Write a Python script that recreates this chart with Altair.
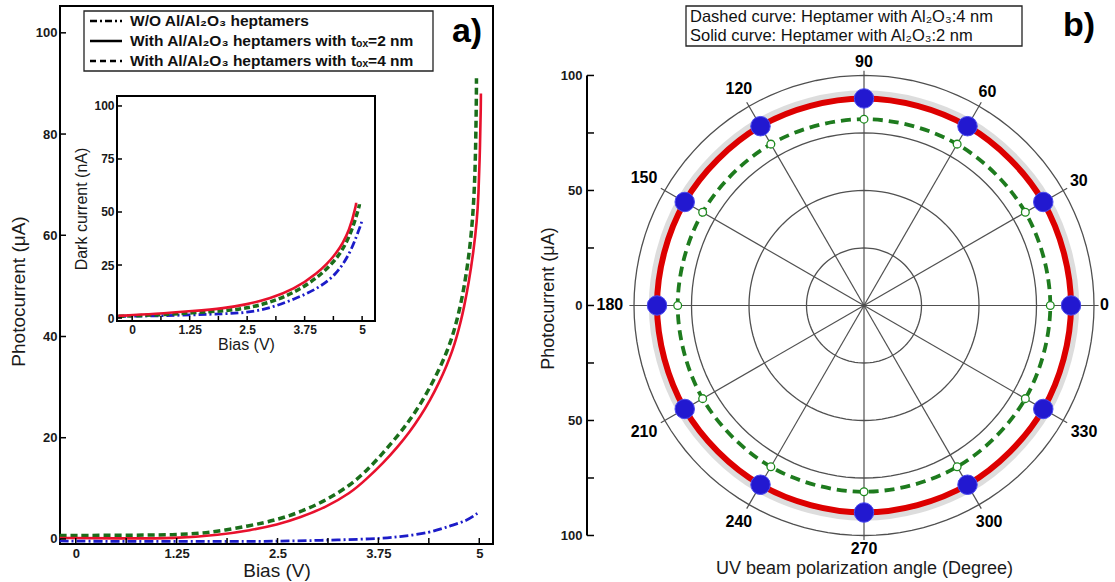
import altair as alt
import pandas as pd
import numpy as np

FONT = "Liberation Sans"
BLUE = "#1c1cc8"
RED = "#e8112d"
GREEN = "#1a6e1a"
INTERP = "basis"

# ---------------- panel a: photocurrent (uA) vs bias (V) ----------------
wo_bias = [-0.2, 0.5, 1.25, 2.0, 2.5, 3.0, 3.71, 4.0, 4.39, 4.64, 4.85, 4.99]
wo_uA = [-0.4, -0.5, -0.5, -0.5, -0.45, -0.3, 0.0, 0.4, 1.2, 2.6, 3.6, 5.2]
t2_bias = [-0.2, 0.5, 1.25, 1.78, 2.16, 2.5, 2.78, 3.1, 3.40, 3.60, 3.81, 4.00, 4.14, 4.27, 4.39, 4.50,
           4.60, 4.67, 4.72, 4.77, 4.81, 4.87, 4.93, 4.97, 4.99, 5.01, 5.02, 5.02]
t2_uA = [0.2, 0.1, 0.1, 0.8, 1.7, 2.8, 4.2, 6.3, 9.0, 11.8, 15.0, 18.4, 21.2, 24.2, 27.4, 30.8,
         34.4, 37.3, 39.9, 42.9, 45.7, 50.6, 57.0, 62.8, 67.5, 77.7, 86.0, 88.0]
t4_bias = [-0.2, 0.5, 1.25, 1.66, 2.16, 2.5, 2.78, 3.1, 3.40, 3.60, 3.81, 4.00, 4.14, 4.27, 4.39, 4.50,
           4.60, 4.67, 4.72, 4.77, 4.81, 4.86, 4.90, 4.93, 4.95, 4.96, 4.965, 4.965]
t4_uA = [0.7, 0.7, 0.8, 1.2, 2.6, 3.8, 5.3, 7.6, 10.6, 13.4, 17.0, 20.6, 23.5, 26.6, 30.0, 33.4,
         37.0, 40.2, 43.0, 46.4, 49.6, 54.6, 60.0, 66.0, 73.5, 82.0, 89.0, 91.0]

# inset: dark current (nA)
d_wo_bias = [-0.3, 0.5, 1.33, 2.0, 2.49, 3.0, 3.51, 4.01, 4.45, 4.74, 4.88, 4.99, 4.99]
d_wo_nA = [0.8, 1.0, 1.5, 2.0, 2.5, 4.6, 8.8, 13.5, 20.6, 30.8, 38.7, 45.0, 45.8]
d_t2_bias = [-0.3, 0.5, 1.33, 2.0, 2.49, 3.0, 3.51, 4.01, 4.45, 4.74, 4.87, 4.87]
d_t2_nA = [1.0, 1.9, 3.3, 4.6, 6.4, 9.2, 13.5, 20.6, 30.0, 41.8, 53.5, 54.4]
d_t4_bias = [-0.3, 0.5, 1.33, 2.0, 2.49, 3.0, 3.51, 4.01, 4.45, 4.74, 4.94, 4.94]
d_t4_nA = [0.8, 1.4, 2.5, 3.4, 4.6, 7.3, 11.8, 18.6, 27.5, 38.5, 52.8, 53.6]

main_x_labels = [0, 1.25, 2.5, 3.75, 5]
main_x_ticks = [0, 0.625, 1.25, 1.875, 2.5, 3.125, 3.75, 4.375, 5]
main_y_ticks = [0, 20, 40, 60, 80, 100]
inset_y_ticks = [0, 25, 50, 75, 100]

legend_labels = [
    "W/O  Al/Al\u2082O\u2083 heptamers",
    "With  Al/Al\u2082O\u2083 heptamers with t\u2092\u2093=2 nm",
    "With  Al/Al\u2082O\u2083 heptamers with t\u2092\u2093=4 nm",
]

# ---------------- panel b: polar ----------------
angles = [0, 30, 60, 90, 120, 150, 180, 210, 240, 270, 300, 330]
r_2nm = [90, 90, 90, 90, 90, 90, 90, 90, 90, 90, 90, 90]
r_4nm = [81, 81, 81, 81, 81, 81, 81, 81, 81, 81, 81, 81]
angle_labels = ["0", "30", "60", "90", "120", "150", "180", "210", "240", "270", "300", "330"]
grid_radii = [25, 50, 75, 100]
polar_r_ticks = [-100, -75, -50, -25, 0, 25, 50, 75, 100]

AX = dict(labelFontWeight="bold", titleFontWeight="normal", labelFont=FONT, titleFont=FONT,
          labelColor="#1a1a1a", titleColor="#1a1a1a", grid=False)

# ======================= PANEL A =======================
W_A, H_A = 433, 538
xa = alt.Scale(domain=[-0.195, 5.17], nice=False, zero=False)
ya = alt.Scale(domain=[-1, 105.3], nice=False, zero=False)

x_axis_a = alt.Axis(values=main_x_labels, labelExpr="datum.value + ''", ticks=False, domain=False,
                    labelFontSize=13, labelPadding=3, title="Bias (V)", titleFontSize=19, titlePadding=1, **AX)
y_axis_a = alt.Axis(values=main_y_ticks, ticks=False, domain=False, labelFontSize=13, labelPadding=3,
                    title="Photocurrent (\u03bcA)", titleFontSize=19, titlePadding=7, titleY=285, **AX)


def XA(f):
    return alt.X(f, scale=xa, axis=x_axis_a)


def YA(f):
    return alt.Y(f, scale=ya, axis=y_axis_a)


def sdf(b, v):
    return pd.DataFrame({"bias": b, "val": v, "i": list(range(len(b)))})


l_t4 = alt.Chart(sdf(t4_bias, t4_uA)).mark_line(color=GREEN, strokeWidth=3.5, strokeDash=[7, 4],
                                                interpolate=INTERP).encode(x=XA("bias:Q"), y=YA("val:Q"), order="i:Q")
l_t2 = alt.Chart(sdf(t2_bias, t2_uA)).mark_line(color=RED, strokeWidth=2.6,
                                                interpolate=INTERP).encode(x=XA("bias:Q"), y=YA("val:Q"), order="i:Q")
l_wo = alt.Chart(sdf(wo_bias, wo_uA)).mark_line(color=BLUE, strokeWidth=2.8, strokeDash=[9, 3, 2, 3],
                                                interpolate=INTERP).encode(x=XA("bias:Q"), y=YA("val:Q"), order="i:Q")
xt = alt.Chart(pd.DataFrame({"bias": main_x_ticks})).mark_rule(color="black", strokeWidth=1.5).encode(
    x=XA("bias:Q"), y=alt.value(H_A), y2=alt.value(H_A - 6))
yt = alt.Chart(pd.DataFrame({"val": main_y_ticks})).mark_rule(color="black", strokeWidth=1.5).encode(
    y=YA("val:Q"), x=alt.value(0), x2=alt.value(6))

main_layer = alt.layer(l_t4, l_t2, l_wo, xt, yt)

# inset
IX0, IX1, IY0, IY1 = 57, 315, 90, 315
xi = alt.Scale(domain=[-0.33, 5.28], range=[IX0, IX1], nice=False, zero=False)
yi = alt.Scale(domain=[-1.4, 104.7], range=[IY1, IY0], nice=False, zero=False)

x_axis_i = alt.Axis(values=main_x_labels, labelExpr="datum.value + ''", ticks=False, domain=False,
                    orient="bottom", offset=-(H_A - IY1), labelFontSize=12, labelPadding=3,
                    title="Bias (V)", titleFontSize=16, titlePadding=1, **AX)
y_axis_i = alt.Axis(values=inset_y_ticks, ticks=False, domain=False, orient="left", offset=-IX0,
                    labelFontSize=12, labelPadding=3, title="Dark current (nA)", titleFontSize=16,
                    titlePadding=4, **AX)


def XI(f):
    return alt.X(f, scale=xi, axis=x_axis_i)


def YI(f):
    return alt.Y(f, scale=yi, axis=y_axis_i)


inset_frame = alt.Chart(pd.DataFrame({"a": [0]})).mark_rect(fill="white", stroke="black", strokeWidth=2).encode(
    x=alt.value(IX0), x2=alt.value(IX1), y=alt.value(IY0), y2=alt.value(IY1))
il_wo = alt.Chart(sdf(d_wo_bias, d_wo_nA)).mark_line(color=BLUE, strokeWidth=2.8, strokeDash=[8, 3, 2, 3],
                                                     interpolate=INTERP).encode(x=XI("bias:Q"), y=YI("val:Q"), order="i:Q")
il_t4 = alt.Chart(sdf(d_t4_bias, d_t4_nA)).mark_line(color=GREEN, strokeWidth=3.5, strokeDash=[6, 3],
                                                     interpolate=INTERP).encode(x=XI("bias:Q"), y=YI("val:Q"), order="i:Q")
il_t2 = alt.Chart(sdf(d_t2_bias, d_t2_nA)).mark_line(color=RED, strokeWidth=2.6,
                                                     interpolate=INTERP).encode(x=XI("bias:Q"), y=YI("val:Q"), order="i:Q")
ixt = alt.Chart(pd.DataFrame({"bias": main_x_ticks})).mark_rule(color="black", strokeWidth=1.5).encode(
    x=XI("bias:Q"), y=alt.value(IY1), y2=alt.value(IY1 - 5))
iyt = alt.Chart(pd.DataFrame({"val": inset_y_ticks})).mark_rule(color="black", strokeWidth=1.5).encode(
    y=YI("val:Q"), x=alt.value(IX0), x2=alt.value(IX0 + 5))

inset_layer = alt.layer(inset_frame, il_wo, il_t4, il_t2, ixt, iyt)

# legend
leg_df = pd.DataFrame({"lab": legend_labels, "row": [0, 1, 2]})
LX0, LX1, LY0, LY1 = 24, 373, 5, 65
leg_box = alt.Chart(pd.DataFrame({"a": [0]})).mark_rect(fill="white", stroke="#222", strokeWidth=1.3).encode(
    x=alt.value(LX0), x2=alt.value(LX1), y=alt.value(LY0), y2=alt.value(LY1))
row_y = [15, 35, 55]
dashes = [[7, 3, 2, 3], [1, 0], [6, 4]]
leg_lines = [
    alt.Chart(pd.DataFrame({"a": [0]})).mark_rule(color="black", strokeWidth=2.6, strokeDash=dashes[i]).encode(
        x=alt.value(30), x2=alt.value(62), y=alt.value(row_y[i]))
    for i in range(3)
]
leg_text = [
    alt.Chart(leg_df.iloc[[i]]).mark_text(align="left", baseline="middle", font=FONT, fontSize=15.5,
                                          fontWeight="bold", color="#111").encode(
        x=alt.value(70), y=alt.value(row_y[i]), text="lab:N")
    for i in range(3)
]
a_label = alt.Chart(pd.DataFrame({"t": ["a)"]})).mark_text(font=FONT, fontSize=34, fontWeight="bold",
                                                            baseline="middle", color="black").encode(
    x=alt.value(407), y=alt.value(26), text="t:N")

panel_a = alt.layer(main_layer, inset_layer, leg_box, *leg_lines, *leg_text, a_label).resolve_scale(
    x="independent", y="independent").properties(
    width=W_A, height=H_A, view=alt.ViewBackground(stroke="black", strokeWidth=2))

# ======================= PANEL B =======================
W_B, H_B = 460, 538
xb = alt.Scale(domain=[-100, 100], nice=False, zero=False)
yb = alt.Scale(domain=[-103.7, 130.2], nice=False, zero=False)

x_axis_b = alt.Axis(title="UV beam polarization angle (Degree)", domain=False, ticks=False, labels=False,
                    titleFontSize=18, titlePadding=15, **AX)
y_axis_b = alt.Axis(values=polar_r_ticks,
                    labelExpr="abs(datum.value) % 50 == 0 ? abs(datum.value) + '' : ''",
                    ticks=False, domain=False, offset=47, labelPadding=5, labelFontSize=13,
                    title="Photocurrent (\u03bcA)", titleFontSize=18, titlePadding=3, titleY=292, **AX)


def XB(f):
    return alt.X(f, scale=xb, axis=x_axis_b)


def YB(f):
    return alt.Y(f, scale=yb, axis=y_axis_b)


CALC = dict(px="datum.r * cos(datum.ang * PI / 180)", py="datum.r * sin(datum.ang * PI / 180)")

grid_rows = [(r, a) for r in grid_radii for a in range(0, 361, 3)]
grid_df = pd.DataFrame(grid_rows, columns=["r", "ang"])

grid = alt.Chart(grid_df).transform_calculate(**CALC).mark_line(color="#505050", strokeWidth=1.3).encode(
    x=XB("px:Q"), y=YB("py:Q"), detail="r:N", order="ang:Q")

spoke_df = pd.DataFrame({"ang": angles, "r": [102] * len(angles)})
spokes = alt.Chart(spoke_df).transform_calculate(**CALC).transform_calculate(zx="0", zy="0").mark_rule(
    color="#505050", strokeWidth=1.2).encode(x=XB("zx:Q"), y=YB("zy:Q"), x2="px:Q", y2="py:Q")

red_df = pd.DataFrame({"ang": angles, "r": r_2nm})
green_df = pd.DataFrame({"ang": angles, "r": r_4nm})

shadow = alt.Chart(red_df).transform_calculate(r="datum.r + 1.6").transform_calculate(**CALC).mark_line(
    color="#777", strokeWidth=9, opacity=0.25, interpolate="cardinal-closed").encode(
    x=XB("px:Q"), y=YB("py:Q"), order="ang:Q")
red_line = alt.Chart(red_df).transform_calculate(**CALC).mark_line(
    color="#dd0000", strokeWidth=6, interpolate="cardinal-closed").encode(
    x=XB("px:Q"), y=YB("py:Q"), order="ang:Q")
green_line = alt.Chart(green_df).transform_calculate(**CALC).mark_line(
    color="#1e7b1e", strokeWidth=3.8, strokeDash=[10, 6], interpolate="cardinal-closed").encode(
    x=XB("px:Q"), y=YB("py:Q"), order="ang:Q")
blue_dots = alt.Chart(red_df).transform_calculate(**CALC).mark_circle(
    size=380, color="#2218d0", opacity=1, stroke="#4a4af0", strokeWidth=1).encode(
    x=XB("px:Q"), y=YB("py:Q"))
green_dots = alt.Chart(green_df).transform_calculate(**CALC).mark_point(
    size=60, fill="white", filled=True, stroke="#1e8a1e", strokeWidth=1.3, opacity=1, shape="circle").encode(
    x=XB("px:Q"), y=YB("py:Q"))

lab_df = pd.DataFrame({"ang": angles, "lab": angle_labels})
ang_labels = alt.Chart(lab_df).transform_calculate(
    r="104.5 + 3 * abs(cos(datum.ang * PI / 180)) * (length(datum.lab) - 1) + 1.5 * abs(sin(datum.ang * PI / 180))"
).transform_calculate(**CALC).mark_text(font=FONT, fontSize=16, fontWeight="bold", color="black",
                                        baseline="middle").encode(
    x=XB("px:Q"), y=YB("py:Q"), text="lab:N")

axis_line = alt.Chart(pd.DataFrame({"py": [min(polar_r_ticks)], "hi": [max(polar_r_ticks)]})).mark_rule(
    color="black", strokeWidth=2).encode(x=alt.value(-47), y=YB("py:Q"), y2="hi:Q")
axis_ticks = alt.Chart(pd.DataFrame({"py": polar_r_ticks})).mark_rule(color="black", strokeWidth=1.5).encode(
    x=alt.value(-47), x2=alt.value(-40), y=YB("py:Q"))

title_lines = ["Dashed curve: Heptamer with Al\u2082O\u2083:4 nm", "Solid curve: Heptamer with Al\u2082O\u2083:2 nm"]
tbox = alt.Chart(pd.DataFrame({"a": [0]})).mark_rect(fill="white", stroke="#222", strokeWidth=1.3).encode(
    x=alt.value(52), x2=alt.value(388), y=alt.value(0), y2=alt.value(40))
ttext = [
    alt.Chart(pd.DataFrame({"t": [title_lines[i]]})).mark_text(align="left", baseline="middle", font=FONT,
                                                                fontSize=16.5, color="#111").encode(
        x=alt.value(56), y=alt.value([11, 30][i]), text="t:N")
    for i in range(2)
]
b_label = alt.Chart(pd.DataFrame({"t": ["b)"]})).mark_text(font=FONT, fontSize=34, fontWeight="bold",
                                                            baseline="middle", color="black").encode(
    x=alt.value(445), y=alt.value(20), text="t:N")

panel_b = alt.layer(grid, spokes, shadow, red_line, green_line, blue_dots, green_dots, ang_labels,
                    axis_line, axis_ticks, tbox, *ttext, b_label).properties(
    width=W_B, height=H_B, view=alt.ViewBackground(stroke="transparent"))

chart = alt.hconcat(panel_a, panel_b, spacing=44).properties(
    padding={"left": 8, "top": 4, "right": 0, "bottom": 0}
).configure_axis(
    labelFont=FONT, titleFont=FONT, labelFontWeight="bold", titleFontWeight="normal",
    labelColor="#1a1a1a", titleColor="#1a1a1a", grid=False
).configure(background="white")

chart.save("out.html", embed_options={"renderer": "svg", "actions": False})
